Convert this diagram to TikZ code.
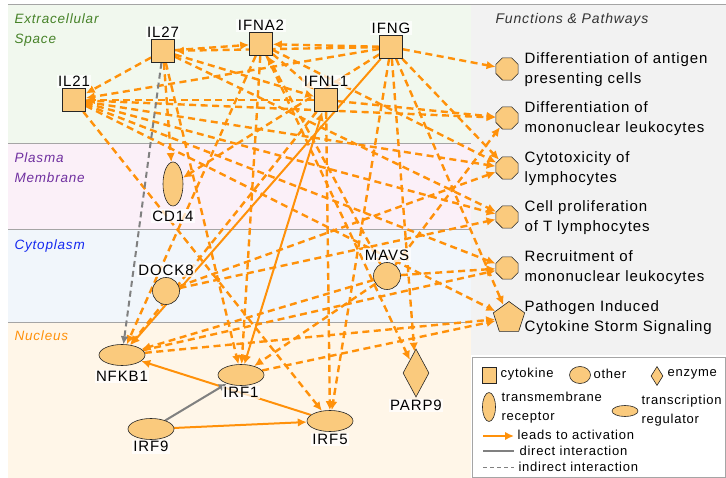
\documentclass[tikz,border=0pt]{standalone}
\usepackage{fontspec}
\setmainfont{Liberation Sans}[LetterSpace=6]
\usetikzlibrary{arrows.meta, shapes.geometric}

\definecolor{actorange}{RGB}{255,145,10}
\definecolor{molfill}{RGB}{250,202,125}
\definecolor{exbg}{RGB}{241,248,238}
\definecolor{pmbg}{RGB}{251,240,248}
\definecolor{cybg}{RGB}{241,246,251}
\definecolor{nubg}{RGB}{255,246,232}
\definecolor{panelbg}{RGB}{242,242,242}
\definecolor{exgreen}{RGB}{70,130,40}
\definecolor{pmpurple}{RGB}{112,48,160}
\definecolor{cyblue}{RGB}{20,40,240}
\definecolor{sepgray}{RGB}{165,165,165}
\definecolor{relgray}{RGB}{128,128,128}

\pgfdeclarelayer{bg}
\pgfdeclarelayer{edges}
\pgfsetlayers{bg,edges,main}

\tikzset{
	mol/.style={draw=black!85, line width=0.6pt, fill=molfill, inner sep=0pt},
	cytokine/.style={mol, rectangle, minimum size=23pt},
	other/.style={mol, circle, minimum size=27pt},
	receptor/.style={mol, ellipse, minimum width=20pt, minimum height=44pt},
	regulator/.style={mol, ellipse, minimum width=46pt, minimum height=21pt},
	enzyme/.style={mol, diamond, minimum width=26pt, minimum height=48pt},
	func/.style={mol, regular polygon, regular polygon sides=8, minimum size=24pt},
	pathway/.style={mol, regular polygon, regular polygon sides=5, minimum size=33pt},
	lbl/.style={fill=white, fill opacity=0.75, text opacity=1, inner sep=1.5pt},
	act/.style={actorange, line width=2.4pt, dash pattern=on 7pt off 4.5pt,
		-{Latex[length=9pt,width=8.5pt]}},
	actsolid/.style={actorange, line width=2pt, -{Latex[length=9pt,width=8.5pt]}},
	direct/.style={relgray, line width=2pt, -{Latex[length=8pt,width=8pt]}},
	indirect/.style={relgray, line width=2pt, dash pattern=on 6pt off 4pt,
		-{Latex[length=8pt,width=8pt]}},
	region/.style={anchor=west, align=left,
		font=\fontsize{13.5}{20}\selectfont\itshape},
	ftext/.style={anchor=west, align=left}
}

\begin{document}
\begin{tikzpicture}[x=1pt, y=-1pt, line cap=butt,
	font=\fontsize{15}{20}\selectfont]

\useasboundingbox (0,0) rectangle (726,478);

% ==== Backgrounds ====
\begin{pgfonlayer}{bg}
	\fill[white] (0,0) rectangle (726,478);
	\fill[exbg] (8,5) rectangle (471,144);
	\fill[pmbg] (8,144) rectangle (471,230);
	\fill[cybg] (8,230) rectangle (471,323);
	\fill[nubg] (8,323) rectangle (471,478);
	\fill[panelbg] (471,5) rectangle (726,355);
	\draw[sepgray, line width=1pt] (8,5) -- (726,5);
	\draw[sepgray, line width=1pt] (8,144) -- (471,144);
	\draw[sepgray, line width=1pt] (8,230) -- (471,230);
	\draw[sepgray, line width=1pt] (8,323) -- (471,323);
	\draw[sepgray, line width=0.8pt, fill=white] (472,357) rectangle (725.5,477.5);
\end{pgfonlayer}

\node[region, text=exgreen] (lblex) at (11,30) {Extracellular\\Space};
\node[region, text=pmpurple] (lblpm) at (11,168) {Plasma\\Membrane};
\node[region, text=cyblue] (lblcy) at (11,246) {Cytoplasm};
\node[region, text=actorange] (lblnu) at (11,336) {Nucleus};
\node[region, text=black!80, font=\fontsize{14}{20}\selectfont\itshape] (lblfp) at (492,20) {Functions \& Pathways};

% ==== Molecules ====
\node[cytokine, label={[lbl]above:IL27}] (il27) at (163,51) {};
\node[cytokine, label={[lbl]above:IFNA2}] (ifna2) at (261,44) {};
\node[cytokine, label={[lbl]above:IFNG}] (ifng) at (391,47) {};
\node[cytokine, label={[lbl]above:IL21}] (il21) at (74,100) {};
\node[cytokine, label={[lbl]above:IFNL1}] (ifnl1) at (326,100) {};
\node[receptor, label={[lbl, label distance=3pt]below:CD14}] (cd14) at (173,184) {};
\node[other, label={[lbl]above:DOCK8}] (dock8) at (166,291) {};
\node[other, label={[lbl]above:MAVS}] (mavs) at (387,276) {};
\node[regulator, label={[lbl, label distance=4pt]below:NFKB1}] (nfkb1) at (122,355) {};
\node[regulator, label={[lbl]below:IRF1}] (irf1) at (241,375) {};
\node[regulator, label={[lbl]below:IRF9}] (irf9) at (151,429) {};
\node[regulator, label={[lbl, label distance=1pt]below:IRF5}] (irf5) at (330,421) {};
\node[enzyme, label={[lbl, label distance=1pt]below:PARP9}] (parp9) at (416,373) {};

% ==== Functions & pathways ====
\node[func] (f1) at (507,69) {};
\node[func] (f2) at (507,118) {};
\node[func] (f3) at (507,168) {};
\node[func] (f4) at (507,217) {};
\node[func] (f5) at (507,268) {};
\node[pathway] (f6) at (509,318) {};
\node[ftext] (t1) at (521,70) {Differentiation of antigen\\presenting cells};
\node[ftext] (t2) at (521,119) {Differentiation of\\mononuclear leukocytes};
\node[ftext] (t3) at (521,169) {Cytotoxicity of\\lymphocytes};
\node[ftext] (t4) at (521,218) {Cell proliferation\\of T lymphocytes};
\node[ftext] (t5) at (521,268) {Recruitment of\\mononuclear leukocytes};
\node[ftext] (t6) at (521,318) {Pathogen Induced\\Cytokine Storm Signaling};

% ==== Relations ====
\begin{pgfonlayer}{edges}
	% among molecules
	\draw[act] (il27) -- (ifna2);
	\draw[act] (ifng) -- (il27);
	\draw[act] (il27) -- (il21);
	\draw[act] (ifng) -- (il21);
	\draw[act] (ifnl1) -- (il21);
	\draw[act] (il27) -- (ifnl1);
	\draw[act] (ifna2) -- (ifnl1);
	\draw[act] (ifng) -- (ifna2);
	\draw[act] (mavs) -- (ifna2);
	\draw[act] (il27) -- (cd14);
	\draw[act] (ifng) -- (cd14);
	\draw[act] (il27) -- (irf1);
	\draw[act] (ifna2) -- (irf1);
	\draw[act] (mavs) -- (irf1);
	\draw[act] (il21) -- (irf5);
	\draw[act] (ifng) -- (irf5);
	\draw[act] (ifnl1) -- (irf5);
	\draw[act] (ifna2) -- (nfkb1);
	\draw[act] (ifnl1) -- (nfkb1);
	\draw[act] (mavs) -- (nfkb1);
	\draw[act] (ifng) -- (parp9);
	\draw[act] (ifna2) -- (parp9);
	% to functions
	\draw[act] (ifng) -- (f1);
	\draw[act] (il21) -- (f2);
	\draw[act] (ifnl1) -- (f2);
	\draw[act] (mavs) -- (f2);
	\draw[act] (il21) -- (f3);
	\draw[act] (ifna2) -- (f3);
	\draw[act] (ifng) -- (f3);
	\draw[act] (dock8) -- (f3);
	\draw[act] (il21) -- (f4);
	\draw[act] (il27) -- (f4);
	\draw[act] (dock8) -- (f4);
	\draw[act] (il21) -- (f5);
	\draw[act] (mavs) -- (f5);
	\draw[act] (nfkb1) -- (f5);
	\draw[act] (il21) -- (f6);
	\draw[act] (ifng) -- (f6);
	\draw[act] (irf1) -- (f6);
	\draw[act] (nfkb1) -- (f6);
	% solid ones
	\draw[actsolid] (ifng) -- (nfkb1);
	\draw[actsolid, {Latex[length=9pt,width=8.5pt]}-{Latex[length=9pt,width=8.5pt]}] (ifnl1) -- (irf1);
	\draw[actsolid] (irf9) -- (irf5);
	\draw[actsolid] (irf5) -- (nfkb1);
	\draw[direct] (irf9) -- (irf1);
	\draw[indirect] (il27) -- (nfkb1);
\end{pgfonlayer}

% ==== Legend ====
\begin{scope}[font=\fontsize{13}{19}\selectfont]
	\node[mol, rectangle, minimum width=14pt, minimum height=16pt] (lgcyt) at (489,375) {};
	\node[anchor=west] (lgcytt) at (497,374) {cytokine};
	\node[mol, ellipse, minimum width=21pt, minimum height=17pt] (lgoth) at (580,375) {};
	\node[anchor=west] (lgotht) at (590,374) {other};
	\node[mol, diamond, minimum width=12pt, minimum height=19pt] (lgenz) at (657,376) {};
	\node[anchor=west] (lgenzt) at (664,374) {enzyme};
	\node[mol, ellipse, minimum width=13pt, minimum height=29pt] (lgrec) at (489,407) {};
	\node[anchor=west, align=left] (lgrect) at (498,407.5) {transmembrane\\receptor};
	\node[mol, ellipse, minimum width=26pt, minimum height=11pt] (lgreg) at (625,411) {};
	\node[anchor=west, align=left] (lgregt) at (638,410.5) {transcription\\regulator};
	\coordinate (lga1) at (483,436);
	\coordinate (lga2) at (514,436);
	\draw[actsolid] (lga1) -- (lga2);
	\node[anchor=west] (lgat) at (514,435) {leads to activation};
	\coordinate (lgd1) at (483,451);
	\coordinate (lgd2) at (514,451);
	\draw[relgray, line width=1.6pt] (lgd1) -- (lgd2);
	\node[anchor=west] (lgdt) at (516,451) {direct interaction};
	\coordinate (lgi1) at (483,467);
	\coordinate (lgi2) at (514,467);
	\draw[relgray, line width=1pt, dash pattern=on 4pt off 3pt] (lgi1) -- (lgi2);
	\node[anchor=west] (lgit) at (515,467) {indirect interaction};
\end{scope}

\end{tikzpicture}
\end{document}
